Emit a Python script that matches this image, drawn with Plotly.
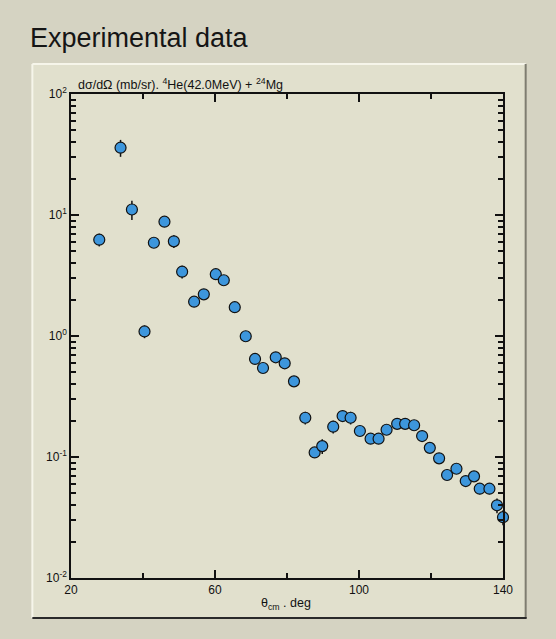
import plotly.graph_objects as go

# Data
theta_cm = [27.85, 33.76, 36.92, 40.42, 43.02, 45.96, 48.57, 50.87, 54.20, 56.89,
            60.22, 62.44, 65.49, 68.54, 71.12, 73.34, 76.87, 79.36, 81.94, 85.08,
            87.68, 89.79, 92.84, 95.45, 97.67, 100.25, 103.22, 105.44, 107.66, 110.60,
            112.82, 115.31, 117.53, 119.67, 122.25, 124.47, 127.07, 129.65, 131.95, 133.54,
            136.23, 138.33, 140.0]
dsigma = [6.25, 36.0, 11.1, 1.09, 5.90, 8.80, 6.06, 3.40, 1.92, 2.21,
          3.24, 2.89, 1.73, 0.995, 0.646, 0.544, 0.667, 0.595, 0.422, 0.211,
          0.109, 0.123, 0.178, 0.218, 0.211, 0.164, 0.1416, 0.1416, 0.168, 0.188,
          0.188, 0.183, 0.149, 0.119, 0.0975, 0.071, 0.080, 0.0633, 0.0692, 0.0547,
          0.0547, 0.0399, 0.0318]
err_pct = [12, 16, 18, 12, 8, 8, 12, 12, 8, 8,
           8, 8, 8, 8, 8, 8, 8, 8, 8, 12,
           8, 14, 12, 8, 12, 8, 8, 8, 8, 8,
           8, 8, 8, 8, 8, 8, 8, 8, 8, 10,
           10, 14, 14]

x_tickvals = [20, 60, 100, 140]
x_ticktext = ["20", "60", "100", "140"]
x_minor = [40, 80, 120]
y_tickvals = [0.01, 0.1, 1, 10, 100]
y_ticktext = ["10<sup>-2</sup>", "10<sup>-1</sup>", "10<sup>0</sup>", "10<sup>1</sup>", "10<sup>2</sup>"]
y_minor = [m * 10.0 ** e for e in range(-2, 2) for m in range(2, 10)]

err_plus = [v * p / 100 for v, p in zip(dsigma, err_pct)]

OUTER = "#d5d3c2"
PANEL = "#e1e0cd"

fig = go.Figure()
fig.add_trace(go.Scatter(
    x=theta_cm, y=dsigma, mode="markers",
    marker=dict(size=11, color="#3d96dc", line=dict(color="#111111", width=1.2)),
    error_y=dict(type="data", array=err_plus, color="#111111", thickness=1.5, width=0),
    cliponaxis=False, showlegend=False,
))

L, R, T, B = 70.7, 503.3, 94.0, 578.0
W = R - L
H = B - T
def px(x):
    return (x - L) / W
def py(y):
    return (B - y) / H

fig.update_layout(
    width=556, height=639,
    margin=dict(l=71, r=53, t=94, b=61),
    paper_bgcolor=OUTER,
    plot_bgcolor="rgba(0,0,0,0)",
    font=dict(family="Liberation Sans, Arial, sans-serif", color="#111111", size=12),
    shapes=[
        dict(type="rect", xref="paper", yref="paper", x0=px(32), x1=px(526), y0=py(618), y1=py(64),
             fillcolor=PANEL, line=dict(width=0), layer="below"),
        dict(type="line", xref="paper", yref="paper", x0=px(32), x1=px(32), y0=py(618), y1=py(64),
             line=dict(color="#f6f5ea", width=2), layer="below"),
        dict(type="line", xref="paper", yref="paper", x0=px(32), x1=px(526), y0=py(64), y1=py(64),
             line=dict(color="#f6f5ea", width=2), layer="below"),
        dict(type="line", xref="paper", yref="paper", x0=px(526), x1=px(526), y0=py(618), y1=py(64),
             line=dict(color="#7e7d70", width=2), layer="below"),
        dict(type="line", xref="paper", yref="paper", x0=px(32), x1=px(527), y0=py(618), y1=py(618),
             line=dict(color="#2a2a2a", width=2), layer="below"),
    ],
    annotations=[
        dict(text="Experimental data", xref="paper", yref="paper", x=px(28), y=py(38),
             xanchor="left", yanchor="middle", showarrow=False,
             font=dict(size=27, family="Liberation Sans, Arial, sans-serif", color="#151515")),
        dict(text="dσ/dΩ (mb/sr). <sup>4</sup>He(42.0MeV) + <sup>24</sup>Mg", xref="paper", yref="paper",
             x=px(76), y=py(84), xanchor="left", yanchor="middle", showarrow=False,
             font=dict(size=12.5)),
        dict(text="θ<sub>cm</sub> . deg", xref="paper", yref="paper",
             x=px(286), y=py(604), xanchor="center", yanchor="middle", showarrow=False,
             font=dict(size=12.5)),
    ],
)

fig.update_xaxes(
    range=[20, 140], tickmode="array", tickvals=x_tickvals, ticktext=x_ticktext,
    ticks="inside", ticklen=8, tickwidth=1.5, tickcolor="#111111",
    showline=True, linecolor="#111111", linewidth=1.5, mirror="ticks",
    showgrid=False, zeroline=False, tickfont=dict(size=12),
    minor=dict(tickmode="array", tickvals=x_minor, ticks="inside", ticklen=5, tickwidth=1.5,
               tickcolor="#111111", showgrid=False),
)
fig.update_yaxes(
    type="log", range=[-2, 2], tickmode="array", tickvals=y_tickvals, ticktext=y_ticktext,
    ticks="inside", ticklen=8, tickwidth=1.5, tickcolor="#111111",
    showline=True, linecolor="#111111", linewidth=1.5, mirror="ticks",
    showgrid=False, zeroline=False, tickfont=dict(size=12),
    minor=dict(tickmode="array", tickvals=y_minor, ticks="inside", ticklen=5, tickwidth=1.5,
               tickcolor="#111111", showgrid=False),
)

fig.write_html("out.html", config={"displayModeBar": False},
               post_script="document.body.style.margin='0px';document.body.style.background='" + OUTER + "';")
